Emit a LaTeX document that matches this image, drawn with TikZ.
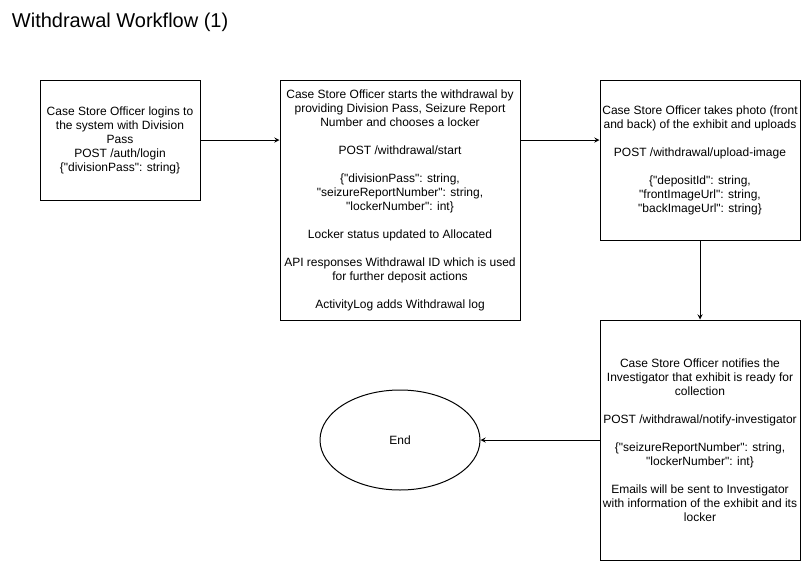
\documentclass[tikz,border=0pt]{standalone}
\usepackage{fontspec}
\setmainfont{Liberation Sans}
\usepackage{tikz}
\usetikzlibrary{shapes.geometric}
\newcommand{\qt}{\textquotedbl}

\begin{document}
\begin{tikzpicture}[x=0.75pt, y=-0.75pt, line width=0.75pt,
	stepbox/.style={draw, rectangle, inner sep=0pt, align=center, font=\fontsize{9}{10.5}\selectfont},
	endnode/.style={draw, ellipse, inner sep=0pt, minimum width=120pt, minimum height=75pt, font=\fontsize{9}{10.5}\selectfont},
	flow/.style={-stealth}]
	\useasboundingbox (0,0) rectangle (801,561);
	\node[anchor=west, font=\fontsize{15}{18}\selectfont] (title) at (7,22) {Withdrawal Workflow (1)};
	% steps
	\node[stepbox, minimum width=120pt, minimum height=90pt] (login) at (120,140) {Case Store Officer logins to\\the system with Division\\Pass\\POST /auth/login\\\{\qt divisionPass\qt: string\}};
	\node[stepbox, minimum width=180pt, minimum height=180pt] (start) at (400,200) {Case Store Officer starts the withdrawal by\\providing Division Pass, Seizure Report\\Number and chooses a locker\\[10.5pt]POST /withdrawal/start\\[10.5pt]\{\qt divisionPass\qt: string,\\\qt seizureReportNumber\qt: string,\\\qt lockerNumber\qt: int\}\\[10.5pt]Locker status updated to Allocated\\[10.5pt]API responses Withdrawal ID which is used\\for further deposit actions\\[10.5pt]ActivityLog adds Withdrawal log};
	\node[stepbox, minimum width=150pt, minimum height=120pt] (upload) at (700,160) {Case Store Officer takes photo (front\\and back) of the exhibit and uploads\\[10.5pt]POST /withdrawal/upload-image\\[10.5pt]\{\qt depositId\qt: string,\\\qt frontImageUrl\qt: string,\\\qt backImageUrl\qt: string\}};
	\node[stepbox, minimum width=150pt, minimum height=180pt] (notify) at (700,440) {Case Store Officer notifies the\\Investigator that exhibit is ready for\\collection\\[10.5pt]POST /withdrawal/notify-investigator\\[10.5pt]\{\qt seizureReportNumber\qt: string,\\\qt lockerNumber\qt: int\}\\[10.5pt]Emails will be sent to Investigator\\with information of the exhibit and its\\locker};
	\node[endnode] (end) at (400,440) {End};
	% connectors
	\draw[flow] (login) -- (start.west |- login);
	\draw[flow] (start.east |- login) -- (upload.west |- login);
	\draw[flow] (upload) -- (notify);
	\draw[flow] (notify) -- (end);
\end{tikzpicture}
\end{document}
